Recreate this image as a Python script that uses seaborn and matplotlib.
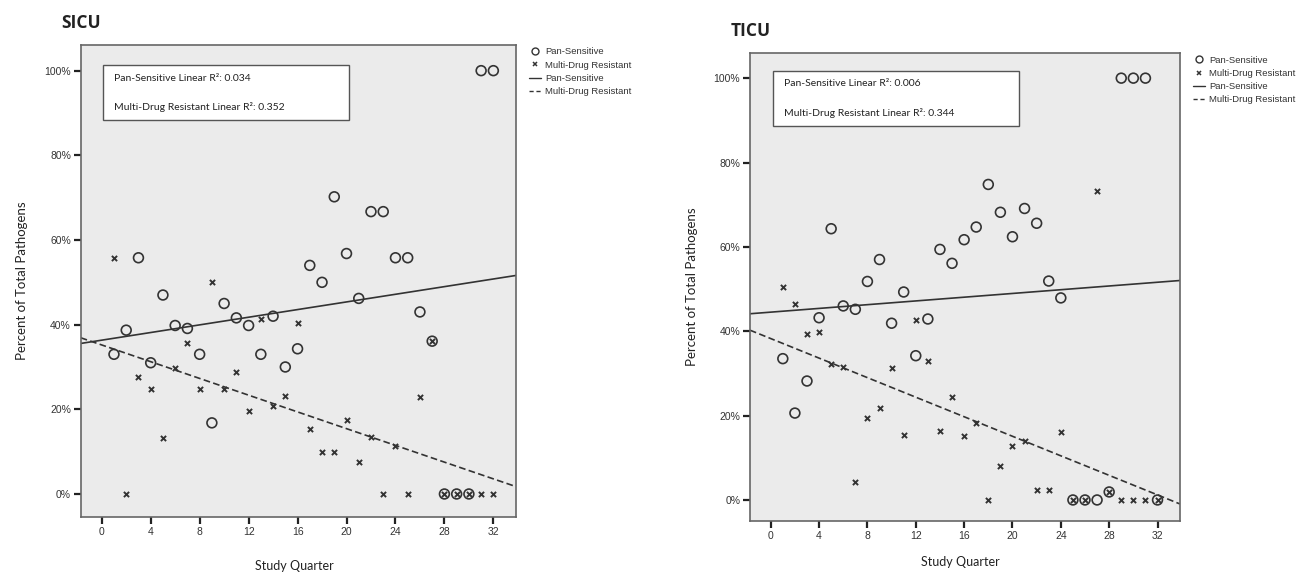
import matplotlib
matplotlib.use("Agg")
import matplotlib.pyplot as plt
from matplotlib.lines import Line2D
from matplotlib.patches import Rectangle
import seaborn as sns
import pandas as pd

quarters = list(range(1, 33))

sicu_pan = [33.0, 38.7, 55.8, 31.0, 47.0, 39.8, 39.1, 33.0, 16.8, 45.0,
            41.6, 39.8, 33.0, 42.0, 30.0, 34.3, 54.0, 50.0, 70.2, 56.8,
            46.2, 66.7, 66.7, 55.8, 55.8, 43.0, 36.1, 0.0, 0.0, 0.0,
            100.0, 100.0]
sicu_mdr = [55.8, 0.0, 27.6, 24.8, 13.3, 29.7, 35.6, 24.8, 50.0, 24.8,
            28.7, 19.7, 41.3, 20.9, 23.1, 40.3, 15.4, 10.0, 10.0, 17.4,
            7.6, 13.4, 0.0, 11.3, 0.0, 23.0, 36.1, 0.0, 0.0, 0.0,
            0.0, 0.0]

ticu_pan = [33.5, 20.6, 28.2, 43.2, 64.3, 46.0, 45.2, 51.8, 57.0, 41.9,
            49.3, 34.2, 42.9, 59.4, 56.1, 61.7, 64.7, 74.8, 68.2, 62.4,
            69.1, 65.6, 51.9, 47.9, 0.0, 0.0, 0.0, 1.9, 100.0, 100.0,
            100.0, 0.0]
ticu_mdr = [50.6, 46.5, 39.3, 39.9, 32.2, 31.5, 4.2, 19.4, 21.7, 31.4,
            15.3, 42.7, 32.9, 16.4, 24.5, 15.2, 18.2, 0.0, 8.1, 12.9,
            14.0, 2.4, 2.4, 16.0, 0.0, 0.0, 73.3, 1.9, 0.0, 0.0,
            0.0, 0.0]

panels = ["SICU", "TICU"]
r2_pan = ["0.034", "0.006"]
r2_mdr = ["0.352", "0.344"]
y_ticks = [0, 20, 40, 60, 80, 100]
x_ticks = [0, 4, 8, 12, 16, 20, 24, 28, 32]

sns.set_theme(style="ticks")
plt.rcParams["font.family"] = ["Lato", "DejaVu Sans"]

ink = "#333333"
bg = "#ebebeb"

fig = plt.figure(figsize=(13.12, 5.72), dpi=100)
ax_pos = [[0.0615, 0.0962, 0.3318, 0.8252], [0.5716, 0.0892, 0.3277, 0.8177]]
ylims = [(-5.43, 106.07), (-4.98, 105.9)]
box = [[0.051, 0.840, 0.565, 0.118], [0.0535, 0.845, 0.5725, 0.118]]
text_y = [[0.929, 0.869], [0.936, 0.873]]
xlab_y = [-0.091, -0.075]
title_xy = [(0.047, 0.96), (0.557, 0.945)]

data = [(sicu_pan, sicu_mdr), (ticu_pan, ticu_mdr)]

for i, name in enumerate(panels):
    ax = fig.add_axes(ax_pos[i])
    ax.set_facecolor(bg)
    ax.set_xlim(-1.72, 33.85)
    ax.set_ylim(*ylims[i])
    pan, mdr = data[i]
    df = pd.DataFrame({"quarter": quarters, "pan": pan, "mdr": mdr})

    sns.scatterplot(data=df, x="quarter", y="pan", ax=ax, marker="o", s=50,
                    facecolor="none", edgecolor=ink, linewidth=1.2, zorder=3)
    sns.scatterplot(data=df, x="quarter", y="mdr", ax=ax, marker="x", s=14,
                    color=ink, linewidth=1.4, zorder=3)
    sns.regplot(data=df, x="quarter", y="pan", ax=ax, scatter=False, ci=None,
                truncate=False, line_kws={"color": ink, "lw": 1.2})
    sns.regplot(data=df, x="quarter", y="mdr", ax=ax, scatter=False, ci=None,
                truncate=False, line_kws={"color": ink, "lw": 1.2, "ls": (0, (4, 2))})
    ax.set_xlim(-1.72, 33.85)
    ax.set_ylim(*ylims[i])

    ax.set_xticks(x_ticks)
    ax.set_yticks(y_ticks)
    ax.set_yticklabels([f"{v}%" for v in y_ticks])
    ax.tick_params(direction="out", length=5, width=1.6, color="#222222", labelsize=7.5,
                   labelcolor="#333333", pad=2)
    for lab in ax.get_xticklabels() + ax.get_yticklabels():
        lab.set_family(["Liberation Sans", "DejaVu Sans"])
    for sp in ax.spines.values():
        sp.set_visible(True)
        sp.set_color("#666666")
        sp.set_linewidth(1.2)

    ax.set_xlabel("Study Quarter", fontsize=9, color="#222222")
    ax.set_ylabel("Percent of Total Pathogens", fontsize=9.5, color="#222222")
    ax.xaxis.set_label_coords(0.49, xlab_y[i])
    ax.yaxis.set_label_coords(-0.12, 0.5)

    bx, by, bw, bh = box[i]
    ax.add_patch(Rectangle((bx, by), bw, bh, transform=ax.transAxes,
                           facecolor="white", edgecolor="#555555", lw=1.0, zorder=4))
    ax.text(bx + 0.025, text_y[i][0], f"Pan-Sensitive Linear R²: {r2_pan[i]}",
            transform=ax.transAxes, fontsize=7.5, color="#222222", va="center", zorder=5)
    ax.text(bx + 0.025, text_y[i][1], f"Multi-Drug Resistant Linear R²: {r2_mdr[i]}",
            transform=ax.transAxes, fontsize=7.5, color="#222222", va="center", zorder=5)

    handles = [
        Line2D([], [], ls="none", marker="o", mfc="none", mec=ink, ms=5, mew=1.0),
        Line2D([], [], ls="none", marker="x", color=ink, ms=3.5, mew=1.1),
        Line2D([], [], color=ink, lw=1.0),
        Line2D([], [], color=ink, lw=1.0, ls=(0, (3, 2))),
    ]
    labels = ["Pan-Sensitive", "Multi-Drug Resistant", "Pan-Sensitive", "Multi-Drug Resistant"]
    ax.legend(handles, labels, loc="upper left", bbox_to_anchor=(1.03, 0.995),
              frameon=False, labelspacing=0.45, handlelength=1.3,
              handletextpad=0.4, borderpad=0, borderaxespad=0,
              prop={"family": ["Liberation Sans", "DejaVu Sans"], "size": 6.8},
              labelcolor="#333333")

    fig.text(title_xy[i][0], title_xy[i][1], name, fontsize=12.5, fontweight="bold",
             color="#222222", va="center", ha="left",
             family=["Open Sans", "DejaVu Sans"])

fig.savefig("out.png", dpi=100)
